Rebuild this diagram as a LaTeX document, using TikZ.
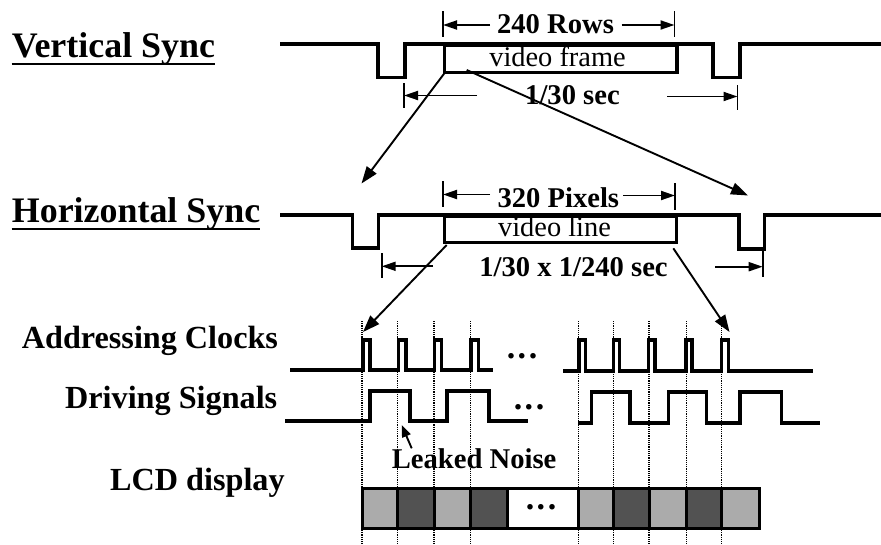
\documentclass[tikz,border=0pt]{standalone}
\usepackage{fontspec}
\setmainfont{Liberation Serif}
\usetikzlibrary{arrows.meta}
\newcommand{\dotrow}{.\hspace{2.5pt}.\hspace{2.5pt}.}
\begin{document}
\begin{tikzpicture}[x=1pt,y=-1pt,
  wave/.style={line width=3.1pt, line join=miter, line cap=rect},
  fineline/.style={line width=1.9pt},
  harr/.style={fineline, -{Triangle[length=14pt,width=9pt]}},
  darr/.style={fineline, -{Triangle[length=17pt,width=12pt]}},
  guide/.style={line width=1.2pt, dash pattern=on 1.2pt off 1pt},
  uline/.style={line width=2.4pt},
  lblbig/.style={font=\fontsize{35.9}{40}\selectfont\bfseries, inner sep=0pt, anchor=base west},
  lblmid/.style={font=\fontsize{32.2}{36}\selectfont\bfseries, inner sep=0pt, anchor=base west},
  dimtext/.style={font=\fontsize{28.6}{32}\selectfont\bfseries, inner sep=0pt, anchor=base},
  boxtext/.style={font=\fontsize{28.4}{32}\selectfont, inner sep=0pt, anchor=base},
  dotstext/.style={font=\fontsize{34}{38}\selectfont\bfseries, inner sep=0pt, anchor=center},
  sigbox/.style={draw, line width=3.1pt, inner sep=0pt, anchor=north west},
  lcdlight/.style={fill=black!33, draw=black, line width=3pt},
  lcddark/.style={fill=black!68, draw=black, line width=3pt},
  lcdwhite/.style={fill=white, draw=black, line width=3pt}
]
\useasboundingbox (0,0) rectangle (881,544);

% ---------- left labels ----------
\node[lblbig] (vs) at (11.7,57) {Vertical Sync};
\draw[uline] ([yshift=-7pt]vs.base west) -- ([yshift=-7pt]vs.base east);
\node[lblbig] (hs) at (11.7,222) {Horizontal Sync};
\draw[uline] ([yshift=-7pt]hs.base west) -- ([yshift=-7pt]hs.base east);
\node[lblmid] (ac) at (21.7,348.3) {Addressing Clocks};
\node[lblmid] (ds) at (65,408.3) {Driving Signals};
\node[lblmid] (lcd) at (110,490) {LCD display};

% ---------- dotted guide lines ----------
\foreach \gx in {362,397.5,434,470.7,578.5,613.5,649,686.7,721.7}
  \draw[guide] (\gx,321) -- (\gx,544);

% ---------- vertical sync ----------
\draw[wave] (281.7,44) -- (378,44) -- (378,77.5) -- (405,77.5) -- (405,44)
  -- (713,44) -- (713,77.5) -- (740,77.5) -- (740,44) -- (881,44);
\node[sigbox, minimum width=232.5pt, minimum height=27pt] (vf) at (442.9,44) {};
\node[boxtext] (vftext) at (557.5,66.5) {video frame};

% 240 Rows dimension
\coordinate (rl1) at (443,11); \coordinate (rl2) at (443,37);
\coordinate (rr1) at (674.5,11); \coordinate (rr2) at (674.5,37);
\draw[fineline] (rl1) -- (rl2);
\draw[fineline] (rr1) -- (rr2);
\node[dimtext] (rows) at (555.5,33.3) {240 Rows};
\coordinate (rowsa) at (490,25); \coordinate (rowsat) at (443,25);
\coordinate (rowsb) at (621.7,25); \coordinate (rowsbt) at (674.5,25);
\draw[harr] (rowsa) -- (rowsat);
\draw[harr] (rowsb) -- (rowsbt);

% 1/30 sec dimension
\coordinate (fl1) at (404,83); \coordinate (fl2) at (404,108);
\coordinate (fr1) at (737.5,85); \coordinate (fr2) at (737.5,110);
\draw[fineline] (fl1) -- (fl2);
\draw[fineline] (fr1) -- (fr2);
\node[dimtext] (frm) at (572.5,104) {1/30 sec};
\coordinate (fa) at (477,95.5); \coordinate (fat) at (404,95.5);
\coordinate (fb) at (667,96.5); \coordinate (fbt) at (737.5,96.5);
\draw[harr] (fa) -- (fat);
\draw[harr] (fb) -- (fbt);

% arrows from video frame to horizontal sync
\coordinate (vfa) at (445.7,71.5);
\coordinate (vfb) at (466.7,70);
\coordinate (hsl) at (361.5,183.5);
\coordinate (hsr) at (748,195.5);
\draw[darr] (vfa) -- (hsl);
\draw[darr] (vfb) -- (hsr);

% ---------- horizontal sync ----------
\draw[wave] (281.7,215) -- (352.3,215) -- (352.3,248) -- (378.3,248) -- (378.3,215)
  -- (739,215) -- (739,249) -- (764.5,249) -- (764.5,215) -- (881,215);
\node[sigbox, minimum width=231.8pt, minimum height=26pt] (vl) at (442.9,215) {};
\node[boxtext] (vltext) at (554.5,236.5) {video line};

% 320 Pixels dimension
\coordinate (pl1) at (443,181); \coordinate (pl2) at (443,207);
\coordinate (pr1) at (675,183); \coordinate (pr2) at (675,210);
\draw[fineline] (pl1) -- (pl2);
\draw[fineline] (pr1) -- (pr2);
\node[dimtext] (pix) at (558.3,207.3) {320 Pixels};
\coordinate (pa) at (490,194.5); \coordinate (pat) at (443,194.5);
\coordinate (pb) at (623,195.5); \coordinate (pbt) at (675,195.5);
\draw[harr] (pa) -- (pat);
\draw[harr] (pb) -- (pbt);

% 1/30 x 1/240 sec dimension
\coordinate (ll1) at (381.7,253); \coordinate (ll2) at (381.7,278);
\coordinate (lr1) at (762.7,249); \coordinate (lr2) at (762.7,277);
\draw[fineline] (ll1) -- (ll2);
\draw[fineline] (lr1) -- (lr2);
\node[dimtext] (lin) at (573.5,276) {1/30 x 1/240 sec};
\coordinate (la) at (433,266.3); \coordinate (lat) at (381.7,266.3);
\coordinate (lb) at (715,266.7); \coordinate (lbt) at (762.7,266.7);
\draw[harr] (la) -- (lat);
\draw[harr] (lb) -- (lbt);

% arrows from video line to clocks
\coordinate (vla) at (446.7,245);
\coordinate (vlb) at (673.3,248.3);
\coordinate (ckl) at (363,332);
\coordinate (ckr) at (729.5,332);
\draw[darr] (vla) -- (ckl);
\draw[darr] (vlb) -- (ckr);

% ---------- addressing clocks ----------
\draw[wave] (291.7,370) -- (363,370) -- (363,340) -- (370,340) -- (370,370)
  -- (398.5,370) -- (398.5,340) -- (406,340) -- (406,370)
  -- (434.5,370) -- (434.5,340) -- (441.7,340) -- (441.7,370)
  -- (471,370) -- (471,340) -- (478.3,340) -- (478.3,370) -- (491.7,370);
\draw[wave] (565,371) -- (579,371) -- (579,340) -- (585.5,340) -- (585.5,371)
  -- (613.5,371) -- (613.5,340) -- (619.8,340) -- (619.8,371)
  -- (648.5,371) -- (648.5,340) -- (655,340) -- (655,371)
  -- (686,371) -- (686,340) -- (692,340) -- (692,371)
  -- (721.7,371) -- (721.7,340) -- (728.3,340) -- (728.3,371) -- (811.7,371);
\node[dotstext] (ckdots) at (522,356.7) {\dotrow};

% ---------- driving signals ----------
\draw[wave] (286.7,421) -- (370,421) -- (370,391) -- (410,391) -- (410,421)
  -- (447,421) -- (447,391) -- (489,391) -- (489,421) -- (526.7,421);
\draw[wave] (579.3,423) -- (591.7,423) -- (591.7,392) -- (630,392) -- (630,423)
  -- (668.3,423) -- (668.3,392) -- (706.7,392) -- (706.7,423)
  -- (740,423) -- (740,392) -- (781.7,392) -- (781.7,423) -- (818.3,423);
\node[dotstext] (dsdots) at (529,407.3) {\dotrow};

% leaked noise
\node[dimtext, anchor=base west] (leak) at (391.7,468.3) {Leaked Noise};
\coordinate (lka) at (411.7,448.3);
\coordinate (lkt) at (401.7,425);
\draw[fineline, -{Triangle[length=12pt,width=9pt]}] (lka) -- (lkt);

% ---------- LCD display ----------
\draw[lcdlight] (362,488.5) rectangle (397.5,528.5);
\draw[lcddark]  (397.5,488.5) rectangle (434,528.5);
\draw[lcdlight] (434,488.5) rectangle (470.7,528.5);
\draw[lcddark]  (470.7,488.5) rectangle (507,528.5);
\draw[lcdwhite] (507,488.5) rectangle (578.5,528.5);
\draw[lcdlight] (578.5,488.5) rectangle (613.5,528.5);
\draw[lcddark]  (613.5,488.5) rectangle (649,528.5);
\draw[lcdlight] (649,488.5) rectangle (686.7,528.5);
\draw[lcddark]  (686.7,488.5) rectangle (721.7,528.5);
\draw[lcdlight] (721.7,488.5) rectangle (759,528.5);
\node[dotstext] (lcddots) at (541,507.7) {\dotrow};
\end{tikzpicture}
\end{document}
